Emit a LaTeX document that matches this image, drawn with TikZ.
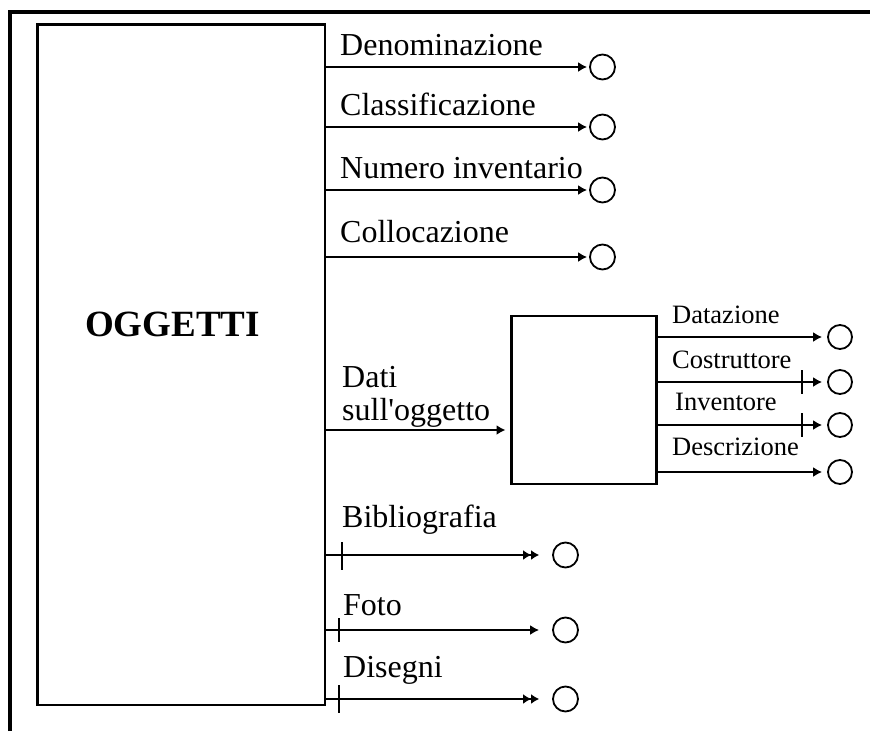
\documentclass[tikz,border=0pt]{standalone}
\usepackage{fontspec}
\setmainfont{Liberation Serif}
\usetikzlibrary{arrows.meta}

\tikzset{
  box/.style={draw, line width=2.6pt, inner sep=0pt},
  attr/.style={draw, circle, line width=1.8pt, minimum size=25pt, inner sep=0pt},
  link/.style={line width=2.6pt, -{Latex[length=9pt,width=10pt]}},
  multilink/.style={line width=2.6pt, -{Latex[length=8pt,width=10pt]Latex[length=8pt,width=10pt]}},
  cardbar/.style={line width=2pt},
  lbl/.style={anchor=base west, inner sep=0pt, font=\fontsize{32}{33}\selectfont},
  sublbl/.style={anchor=base west, inner sep=0pt, font=\fontsize{26.5}{27}\selectfont},
}

\begin{document}
\begin{tikzpicture}[x=1pt, y=-1pt]
  \useasboundingbox (0,0) rectangle (870,731);
  \draw [line width=4pt] (10,731) -- (10,11.5) -- (870,11.5);

  % entita principale
  \node [box, minimum width=287.5pt, minimum height=680.5pt] (oggetti) at (181.25,364.75) {};
  \node [anchor=base west, inner sep=0pt, font=\fontsize{37}{37}\selectfont\bfseries] at (85,336.5) {OGGETTI};

  % attributi semplici
  \node [attr] (den) at (602.5,67) {};
  \node [attr] (cla) at (602.5,127) {};
  \node [attr] (num) at (602.5,190) {};
  \node [attr] (col) at (602.5,257) {};
  \node [lbl] at (340,55) {Denominazione};
  \node [lbl] at (340,115) {Classificazione};
  \node [lbl] at (340,178) {Numero inventario};
  \node [lbl] at (340,242) {Collocazione};

  \draw [link, shorten >=2pt] (oggetti.east |- den) -- (den);
  \draw [link, shorten >=2pt] (oggetti.east |- cla) -- (cla);
  \draw [link, shorten >=2pt] (oggetti.east |- num) -- (num);
  \draw [link, shorten >=2pt] (oggetti.east |- col) -- (col);

  % attributo composto
  \node [box, minimum width=145pt, minimum height=168pt] (dati) at (584,400) {};
  \coordinate (datiin) at (511.5,430);
  \node [lbl, align=left] at (342,420) {Dati\\sull\textquotesingle oggetto};
  \draw [link, shorten >=6pt] (oggetti.east |- datiin) -- (datiin);

  \node [attr, minimum size=24pt] (dat) at (840,337) {};
  \node [attr, minimum size=24pt] (cos) at (840,382) {};
  \node [attr, minimum size=24pt] (inv) at (840,425) {};
  \node [attr, minimum size=24pt] (des) at (840,472) {};
  \node [sublbl] at (672,323) {Datazione};
  \node [sublbl] at (672,368) {Costruttore};
  \node [sublbl] at (675,410) {Inventore};
  \node [sublbl] at (672,455) {Descrizione};

  \draw [link, shorten >=5pt] (dati.east |- dat) -- (dat);
  \draw [link, shorten >=5pt] (dati.east |- cos) -- (cos);
  \draw [link, shorten >=5pt] (dati.east |- inv) -- (inv);
  \draw [link, shorten >=5pt] (dati.east |- des) -- (des);
  \draw [cardbar] (802,370) -- (802,394);
  \draw [cardbar] (802,413) -- (802,437);

  % attributi multipli
  \node [attr] (bib) at (565.5,555) {};
  \node [attr] (fot) at (565.5,630) {};
  \node [attr] (dis) at (565.5,699) {};
  \node [lbl] at (342,527) {Bibliografia};
  \node [lbl] at (343,615) {Foto};
  \node [lbl] at (343,677) {Disegni};

  \draw [multilink, shorten >=13pt] (oggetti.east |- bib) -- (bib);
  \draw [link, shorten >=13pt] (oggetti.east |- fot) -- (fot);
  \draw [multilink, shorten >=13pt] (oggetti.east |- dis) -- (dis);
  \draw [cardbar] (342,542) -- (342,570);
  \draw [cardbar] (339,618) -- (339,642);
  \draw [cardbar] (339,685) -- (339,713);
\end{tikzpicture}
\end{document}
